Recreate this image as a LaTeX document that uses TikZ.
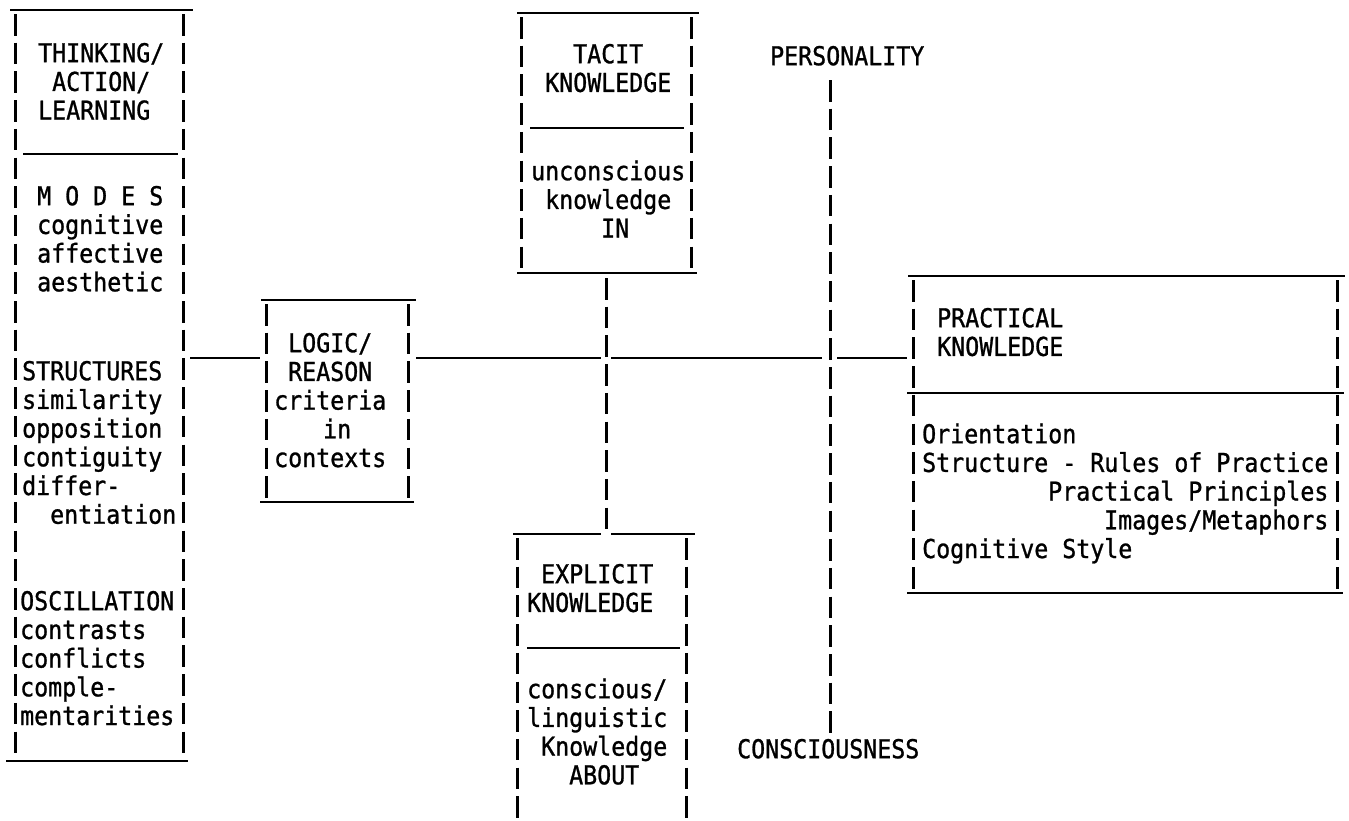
\documentclass[tikz,border=0pt]{standalone}
\usepackage{fontspec}
\newfontfamily\typew[FakeStretch=0.895,FakeBold=1]{DejaVu Sans Mono}
\usepackage{tikz}
\usetikzlibrary{calc}
\newlength\cw \setlength\cw{14pt}
\newcommand\ind[1]{\hspace*{#1\cw}}
\newcommand\sides[1]{%
  \draw[bar] ($(#1.north west)+(0,4)$) -- (#1.south west);
  \draw[bar] ($(#1.north east)+(0,4)$) -- (#1.south east);}
\begin{document}
\begin{tikzpicture}[x=1pt,y=-1pt,
  frame/.style={inner sep=0pt,outer sep=0pt},
  bar/.style={line width=3pt,dash pattern=on 21.5pt off 7.2pt},
  rule/.style={line width=2.8pt},
  txt/.style={font=\typew\fontsize{26}{28.7}\selectfont,inner sep=0pt,
    anchor=north west,yshift=20.09pt,align=left}]%typed sheet, one px = one pt
\useasboundingbox (0,0) rectangle (1349,820);
% frames
\node[frame,minimum width=168pt,minimum height=751pt] (think) at (99,385.5) {};
\node[frame,minimum width=142pt,minimum height=202pt] (logic) at (337,401) {};
\node[frame,minimum width=170pt,minimum height=260pt] (tacit) at (606,143) {};
\node[frame,minimum width=169pt,minimum height=286pt] (expl) at (601.5,677) {};
\node[frame,minimum width=424pt,minimum height=317pt] (prac) at (1125,434.5) {};
\sides{think} \sides{logic} \sides{tacit} \sides{expl} \sides{prac}
\draw[rule] ($(think.north west)+(-5,0)$) -- ($(think.north east)+(10,0)$);
\draw[rule] ($(think.north west)+(8,144)$) -- ($(think.north east)+(-5,144)$);
\draw[rule] ($(think.south west)+(-9,0)$) -- ($(think.south east)+(5,0)$);
\draw[rule] ($(logic.north west)+(-5,0)$) -- ($(logic.north east)+(8,0)$);
\draw[rule] ($(logic.south west)+(-6,0)$) -- ($(logic.south east)+(6,0)$);
\draw[rule] ($(tacit.north west)+(-4,0)$) -- ($(tacit.north east)+(8,0)$);
\draw[rule] ($(tacit.north west)+(9,115)$) -- ($(tacit.north east)+(-7,115)$);
\draw[rule] ($(tacit.south west)+(-4,0)$) -- ($(tacit.south east)+(6,0)$);
\draw[rule] ($(expl.north west)+(-4,0)$) -- ($(tacit.south |- expl.north)+(-5,0)$);
\draw[rule] ($(tacit.south |- expl.north)+(5,0)$) -- ($(expl.north east)+(9,0)$);
\draw[rule] ($(expl.north west)+(10,114)$) -- ($(expl.north east)+(-6,114)$);
\draw[rule] ($(prac.north west)+(-5,0)$) -- ($(prac.north east)+(8,0)$);
\draw[rule] ($(prac.north west)+(-6,117)$) -- ($(prac.north east)+(7,117)$);
\draw[rule] ($(prac.south west)+(-6,0)$) -- ($(prac.south east)+(6,0)$);
% axis
\node[txt] (pers) at (770,65) {\strut PERSONALITY};
\node[txt] (cons) at (737,758) {\strut CONSCIOUSNESS};
\coordinate (axtop) at (830,80);
\coordinate (axbot) at (830,733);
\draw[bar] (axtop) -- (axbot);
% links
\coordinate (lvl) at (0,358);
\draw[rule] ($(think.east |- lvl)+(7,0)$) -- ($(logic.west |- lvl)+(-6,0)$);
\draw[rule] ($(logic.east |- lvl)+(8,0)$) -- ($(tacit.south |- lvl)+(-5,0)$);
\draw[rule] ($(tacit.south |- lvl)+(5,0)$) -- ($(axtop |- lvl)+(-8,0)$);
\draw[rule] ($(axtop |- lvl)+(7,0)$) -- ($(prac.west |- lvl)+(-6,0)$);
\draw[bar] ($(tacit.south)+(0,5)$) -- ($(tacit.south |- expl.north)+(0,-4)$);
% texts
\node[txt] (tk1) at (38,62) {\strut THINKING/\\\ind{1}ACTION/\\LEARNING};
\node[txt] (tk2) at (37,205) {\strut M O D E S\\cognitive\\affective\\aesthetic};
\node[txt] (tk3) at (22,380) {\strut STRUCTURES\\similarity\\opposition\\contiguity\\differ-\\\ind{2}entiation};
\node[txt] (tk4) at (20,610) {\strut OSCILLATION\\contrasts\\conflicts\\comple-\\mentarities};
\node[txt] (lg) at (274,352) {\strut\ind{1}LOGIC/\\\ind{1}REASON\\criteria\\\ind{3.5}in\\contexts};
\node[txt] (tc1) at (545,63) {\strut\ind{2}TACIT\\KNOWLEDGE};
\node[txt] (tc2) at (531,180) {\strut unconscious\\\ind{1}knowledge\\\ind{5}IN};
\node[txt] (ex1) at (527,583) {\strut\ind{1}EXPLICIT\\KNOWLEDGE};
\node[txt] (ex2) at (527,698) {\strut conscious/\\linguistic\\\ind{1}Knowledge\\\ind{3}ABOUT};
\node[txt] (pr1) at (937,327) {\strut PRACTICAL\\KNOWLEDGE};
\node[txt] (pr2) at (922,443) {\strut Orientation\\Structure - Rules of Practice\\\ind{9}Practical Principles\\\ind{13}Images/Metaphors\\Cognitive Style};
\end{tikzpicture}
\end{document}
